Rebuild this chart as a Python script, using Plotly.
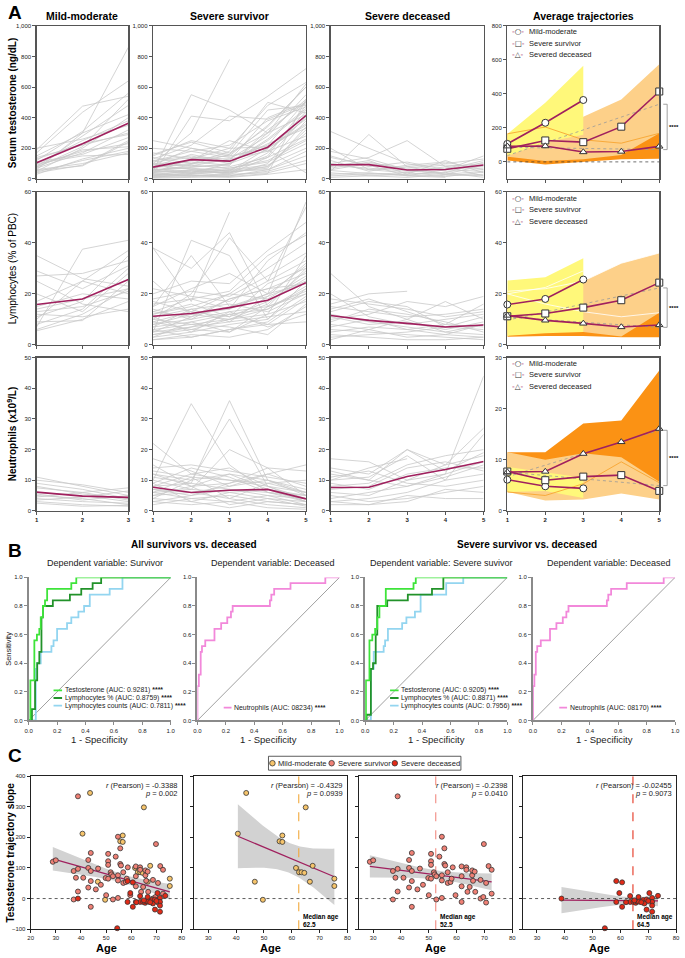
import numpy as np
import plotly.graph_objects as go

W, H = 685, 958
FONT = "Liberation Sans, Arial, sans-serif"
RASP = "#A0205E"
GRAY = "#C9C9C9"
YEL = "#FFF87A"
LOR = "#FDD089"
DOR = "#FB9214"

# ---------------- Panel A data ----------------
t3 = [1, 2, 3]
t5 = [1, 2, 3, 4, 5]

testo_mild_lines = [
    [190, 475, 540], [170, 435, 640], [60, 300, 860], [120, 310, 560], [80, 280, 480],
    [50, 200, 400], [100, 250, 380], [150, 300, 420], [40, 90, 250], [70, 170, 320],
    [90, 180, 230], [30, 130, 200], [110, 160, 270], [60, 100, 170], [140, 220, 300],
    [80, 190, 210], [45, 120, 180], [200, 260, 350], [130, 230, 290], [100, 150, 160],
    [55, 85, 240], [75, 210, 520]]
testo_surv_lines = [
    [50, 550, 450, 300, 620], [100, 300, 780, None, None], [30, 410, 380, 540, 720],
    [150, 250, 200, 480, 630], [80, 100, 120, 400, 500], [60, 80, 90, 300, 520],
    [20, 40, 60, 150, 480], [120, 150, 100, 250, 450], [40, 60, 30, 100, 380],
    [10, 30, 50, 200, 350], [90, 200, 150, 350, 600], [70, 120, 250, 180, 400],
    [30, 50, 40, 80, 300], [200, 180, 220, 380, 470], [50, 90, 70, 120, 250],
    [110, 140, 130, 280, 550], [25, 35, 60, 90, 200], [140, 100, 180, 500, 430],
    [60, 70, 50, 60, 150], [15, 20, 30, 40, 100], [80, 160, 110, 230, 330],
    [45, 55, 80, 140, 410], [100, 110, 90, 320, 500], [35, 25, 20, 50, 120],
    [170, 130, 150, 200, 360], [55, 75, 100, 260, 460], [10, 15, 10, 30, 60],
    [95, 85, 130, 180, 280], [130, 220, 410, 390, 490], [20, 60, 40, 170, 440],
    [65, 45, 70, 110, 230], [75, 95, 160, 450, 480], [40, 130, 200, 210, 390],
    [160, 240, 170, 300, 420], [5, 10, 20, 60, 180], [85, 65, 55, 80, 320],
    [115, 180, 140, 220, 510], [30, 20, 35, 140, 260], [250, 200, 160, 340, 600],
    [50, 40, 100, 190, 40], [20, 25, 15, 35, 520], [65, 35, 45, 70, 340]]
testo_dec_lines = [
    [310, 200, 100, 50, 60], [50, 290, 80, 30, 20], [100, 140, 250, 80, 100],
    [150, 80, 110, 60, 150], [80, 120, 30, 120, 40], [200, 60, 40, 20, 30],
    [30, 40, 20, 60, 120], [60, 100, 70, 90, 80], [120, 50, 90, 110, 60],
    [40, 20, 10, 30, 50], [90, 70, 50, 40, 110], [20, 30, 40, 80, 20],
    [70, 110, 60, 30, 90], [140, 90, 20, 10, None], [10, 20, 30, 40, 10],
    [100, 60, 80, 100, 130], [55, 35, 25, 15, 45], [180, 130, 60, 70, 70]]

lymph_mild_lines = [
    [35, 26, 23], [29, 22, 31], [27, 28, 33], [7, 37.5, 41], [10, 25, 37], [8, 14, 30],
    [6, 12, 22], [9, 9.5, 25], [15, 20, 18], [20, 13, 28], [12, 11, 14], [17, 25, 20],
    [25, 16, 13], [11, 17, 35], [14, 18, 22], [5.5, 10, 17], [13, 15, 21]]
lymph_surv_lines = [
    [38, 17, 52, None, None], [38, 30, 44, 15, 20], [5, 41, 35, 10, 25], [15, 35, 15, 20, 56],
    [10, 20, 42, 25, 54], [20, 25, 24, 37, 48], [8, 12, 14, 33, 44], [12, 15, 20, 30, 40],
    [6, 8, 10, 12, 35], [4, 6, 5, 15, 30], [14, 10, 18, 22, 28], [9, 13, 11, 17, 26],
    [3, 5, 8, 10, 22], [7, 9, 12, 8, 18], [16, 18, 14, 20, 24], [11, 14, 16, 13, 20],
    [2, 4, 3, 6, 15], [5, 7, 9, 11, 13], [13, 11, 15, 19, 32], [18, 21, 19, 27, 36],
    [10, 8, 7, 4, 16], [6, 3, 6, 9, 19], [8, 10, 13, 15, 21], [12, 16, 11, 24, 30],
    [4, 7, 12, 14, 23], [17, 13, 20, 18, 27], [9, 6, 10, 16, 29], [3, 9, 5, 12, 17],
    [22, 19, 17, 25, 33], [7, 14, 9, 19, 25], [11, 5, 13, 7, 12], [15, 22, 28, 20, 31],
    [5, 11, 18, 22, 24], [25, 12, 10, 14, 22], [13, 18, 21, 35, 43], [2, 3, 6, 8, 9]]
lymph_dec_lines = [
    [28, 15, 10, 5, 8], [16, 20, 21, None, None], [14, 18, 13, 8, 7], [10, 12, 17, 15, 19],
    [8, 6, 10, 17, 10], [12, 9, 7, 5, 4], [20, 11, 8, 10, 12], [5, 7, 6, 4, 3],
    [3, 4, 5, 7, 6], [15, 13, 11, 12, 14], [9, 14, 12, 9, 5], [6, 5, 4, 3, 2],
    [11, 8, 9, 6, 9], [18, 16, 14, 11, 13], [7, 10, 6, 8, 16], [4, 3, 2, 2, 3],
    [13, 17, 15, 7, 11], [2, 6, 3, 4, 8]]

neut_mild_lines = [
    [11, 8, 5], [10, 8.5, 6], [9, 7, 4], [7.5, 6, 7.5], [6, 5, 3], [5, 4, 2], [4, 3, 2.5],
    [3, 2, 1.5], [8, 5.5, 4], [3.5, 4.5, 6.5], [5.5, 3.5, 5], [4.5, 6, 3.5], [2.5, 1.5, 1.8]]
neut_surv_lines = [
    [22, 12, 10, 8, 6], [10, 35, 15, 6, 4], [8, 9, 36, 10, 5], [12, 10, 30, 8, 3],
    [6, 7, 20, 14, 5], [17, 13, 8, 12, 15], [15, 8, 12, 10, 7], [9, 14, 11, 6, 3],
    [7, 5, 9, 12, 8], [5, 6, 4, 9, 10], [11, 9, 7, 5, 2], [4, 3, 6, 4, 3],
    [3, 2, 3, 5, 4], [13, 11, 10, 9, 6], [6, 4, 5, 3, 2], [8, 12, 14, 8, 4],
    [10, 7, 6, 7, 5], [14, 15, 13, 11, 9], [5, 8, 2, 4, 1.5], [7, 6, 8, 10, 6],
    [3, 5, 7, 6, 5], [9, 3, 1, 3, 2], [12, 8, 9, 14, 13], [4, 10, 12, 7, 3],
    [6, 11, 4, 2, 1], [2, 4, 3, 1, 0.5]]
neut_dec_lines = [
    [17, 16, 10, 12, 44], [14, 12, 20, 15, 27], [10, 11, 18, 10, 25], [8, 9, 15, 18, 20],
    [12, 10, 20, 13, 19], [6, 5, 10, 15, 18], [4, 6, 8, 12, 16], [9, 7, 12, 14, 14],
    [3, 4, 6, 10, 12], [11, 13, 9, 8, 10], [5, 3, 4, 6, 8], [7, 8, 14, 16, 13],
    [2, 2, 5, 4, 4], [13, 10, 8, 11, 15], [10, 14, 17, None, None], [3, 2, 3, 7, 6]]

testo_mean_mild = [106, 230, 364]
testo_mean_surv = [77, 126, 116, 207, 414]
testo_mean_dec = [92, 93, 58, 61, 91]
lymph_mean_mild = [15.8, 18.0, 25.6]
lymph_mean_surv = [11.2, 12.3, 14.6, 17.5, 24.4]
lymph_mean_dec = [11.5, 9.6, 8.4, 7.0, 7.8]
neut_mean_mild = [6.1, 4.8, 4.4]
neut_mean_surv = [7.7, 6.0, 6.7, 7.0, 3.9]
neut_mean_dec = [7.6, 7.7, 11.2, 13.5, 16.1]

# band limits for the average-trajectory panels
testo_band_mild = ([164, 348, 566], [35, 115, 160])
testo_band_surv = ([164, 230, 265, 367, 574], [30, 5, 15, 40, 168])
testo_band_dec = ([165, 205, 130, 110, 168], [8, -15, -2, 15, 18])
lymph_band_mild = ([25.2, 26.5, 34.0], [3.5, 4.5, 5.0])
lymph_band_surv = ([21.0, 22.0, 25.0, 32.0, 36.0], [4.0, 5.0, 5.0, 3.3, 12.6])
lymph_band_dec = ([20.0, 16.0, 13.0, 11.0, 12.6], [3.2, 3.5, 3.5, 3.0, 3.0])
neut_band_mild = ([8.6, 7.6, 6.5], [3.7, 3.9, 2.5])
neut_band_surv = ([11.5, 10.0, 11.3, 10.5, 5.7], [3.7, 2.0, 2.2, 3.4, 2.2])
neut_band_dec = ([11.5, 11.5, 17.1, 17.7, 27.5], [3.7, 3.0, 5.3, 9.6, 5.5])

# ---------------- Panel B data (ROC step points) ----------------
roc1_testo_fpr = [0, 0.012, 0.04, 0.058, 0.075, 0.085, 0.1, 0.115, 0.13, 0.3, 0.335, 1.0]
roc1_testo_tpr = [0, 0.28, 0.56, 0.60, 0.64, 0.72, 0.80, 0.84, 0.92, 0.96, 1.0, 1.0]
roc1_lpct_fpr = [0, 0.023, 0.045, 0.06, 0.075, 0.09, 0.1, 0.17, 0.29, 0.37, 0.45, 0.51, 1.0]
roc1_lpct_tpr = [0, 0.08, 0.28, 0.40, 0.48, 0.72, 0.80, 0.84, 0.88, 0.92, 0.96, 1.0, 1.0]
roc1_lcnt_fpr = [0, 0.05, 0.06, 0.085, 0.16, 0.175, 0.2, 0.27, 0.30, 0.35, 0.39, 0.43, 0.57, 0.66, 1.0]
roc1_lcnt_tpr = [0, 0.36, 0.40, 0.48, 0.52, 0.56, 0.64, 0.68, 0.72, 0.76, 0.80, 0.88, 0.92, 1.0, 1.0]
roc2_neut_fpr = [0, 0, 0.01, 0.023, 0.032, 0.055, 0.12, 0.167, 0.21, 0.236, 0.248, 0.44, 0.51, 0.52, 0.54, 0.655, 0.9, 1.0]
roc2_neut_tpr = [0, 0.24, 0.32, 0.48, 0.52, 0.56, 0.64, 0.68, 0.72, 0.76, 0.80, 0.80, 0.84, 0.88, 0.92, 0.96, 1.0, 1.0]
roc3_testo_fpr = [0, 0.005, 0.03, 0.05, 0.07, 0.085, 0.1, 0.145, 0.34, 0.356, 1.0]
roc3_testo_tpr = [0, 0.28, 0.56, 0.60, 0.64, 0.72, 0.80, 0.92, 0.96, 1.0, 1.0]
roc3_lpct_fpr = [0, 0.01, 0.04, 0.055, 0.074, 0.085, 0.155, 0.3, 0.47, 0.55, 1.0]
roc3_lpct_tpr = [0, 0.04, 0.36, 0.40, 0.60, 0.80, 0.84, 0.88, 0.92, 1.0, 1.0]
roc3_lcnt_fpr = [0, 0.04, 0.06, 0.13, 0.14, 0.16, 0.26, 0.29, 0.35, 0.39, 0.57, 0.69, 1.0]
roc3_lcnt_tpr = [0, 0.36, 0.48, 0.52, 0.56, 0.64, 0.68, 0.72, 0.76, 0.88, 0.96, 1.0, 1.0]
roc4_neut_fpr = [0, 0, 0.01, 0.02, 0.03, 0.055, 0.12, 0.165, 0.21, 0.235, 0.25, 0.45, 0.52, 0.53, 0.55, 0.66, 0.92, 1.0]
roc4_neut_tpr = [0, 0.24, 0.32, 0.48, 0.52, 0.56, 0.64, 0.68, 0.72, 0.76, 0.80, 0.80, 0.84, 0.88, 0.92, 0.96, 1.0, 1.0]

# ---------------- Panel C data ----------------
mild_age = [40.6, 43.6, 46.7, 49.6, 55.6, 56.6, 56.6, 65.0, 61.5, 62.6, 63.5, 64.5, 67.5, 66.5, 75.3, 75.3]
mild_slope = [212, 345, 55, -4, 187, 185, 206, 298, 100, 86, 86, 84, 107, 55, 65, 41]
surv_age = [28.8, 30.0, 38.8, 37.1, 38.8, 38.0, 38.8, 37.1, 40.9, 42.9,
            43.9, 42.9, 43.9, 43.9, 42.9, 43.9, 45.9, 46.8, 47.9, 50.0,
            50.8, 50.8, 50.8, 49.8, 50.8, 51.8, 52.1, 52.7, 52.7, 53.8,
            54.7, 54.7, 54.7, 54.7, 55.6, 55.6, 55.9, 56.8, 56.8, 57.8,
            58.2, 58.6, 59.6, 61.8, 61.8, 61.8, 61.8, 63.5, 63.5, 63.9,
            65.6, 65.6, 66.5, 65.9, 64.7, 66.7, 68.6, 68.6, 69.6, 69.8,
            70.6, 70.6, 71.5, 72.6, 72.6]
surv_slope = [120, 125, 334, 90, 97, 68, 23, -3, 68, 126,
              149, 100, 90, 57, 36, -27, 30, 98, 45, 11,
              146, 122, 110, 67, 65, 86, 79, 73, -3, 137,
              202, 76, 59, 2, 164, 113, 108, 86, 51, 54,
              65, 102, 11, 105, 73, -11, 40, 102, 94, 22,
              76, 92, 88, 58, 38, 22, 61, 0, 5, 178,
              51, -13, 106, 94, 16]
dec_age = [38.8, 58.5, 60.6, 59.6, 58.5, 60.6, 54.4, 63.5, 63.5, 64.7,
           65.5, 65.9, 66.5, 66.7, 68.2, 68.6, 69.4, 70.4, 71.4, 71.4,
           71.4, 69.4, 71.4, 73.5, 62.0, 67.5, 65.0, 70.0]
dec_slope = [0, 57, 53, 18, -11, -27, -97, 8, -11, -11,
             -14, -9, 5, -10, -5, -16, -3, 18, 2, -11,
             -23, -36, -43, 9, -12, -12, -6, -8]
median_ages = [None, 62.5, 52.5, 64.5]
pearson_r = ["-0.3388", "-0.4329", "-0.2398", "-0.02455"]
pearson_p = ["0.002", "0.0939", "0.0410", "0.9073"]

# ---------------- helpers ----------------
def xd(a, b):
    return [a / W, b / W]

def yd(top, bot):
    return [1 - bot / H, 1 - top / H]

def px(x):
    return x / W

def py(y):
    return 1 - y / H

fig = go.Figure()
layout = {}
annotations = []
shapes = []

def ann(text, x, y, size=9, bold=False, xanchor="center", yanchor="middle", angle=0,
        color="black", xref="paper", yref="paper", align="center", family=FONT):
    annotations.append(dict(text=text, x=x, y=y, xref=xref, yref=yref, showarrow=False,
                            font=dict(family=family, size=size, color=color,
                                      weight="bold" if bold else "normal"),
                            xanchor=xanchor, yanchor=yanchor, textangle=angle, align=align))

def axname(n):
    return ("x" if n == 1 else f"x{n}"), ("y" if n == 1 else f"y{n}")

def set_axes(n, xdom, ydom, xrange, yrange, xtick, ytick, xlabels=True, ylabels=True,
             box=True, linecolor="#555", linewidth=1.3, yfmt=None, xbold=False):
    xk = "xaxis" if n == 1 else f"xaxis{n}"
    yk = "yaxis" if n == 1 else f"yaxis{n}"
    xa, ya = axname(n)
    layout[xk] = dict(domain=xdom, anchor=ya, range=xrange, tickvals=xtick,
                      showticklabels=xlabels, ticks="outside", ticklen=3, tickwidth=1,
                      tickcolor=linecolor, showline=True, linecolor=linecolor,
                      linewidth=linewidth, mirror=box, showgrid=False, zeroline=False,
                      tickfont=dict(family=FONT, size=6, color="#222",
                                    weight="bold" if xbold else "normal"))
    layout[yk] = dict(domain=ydom, anchor=xa, range=yrange, tickvals=ytick,
                      showticklabels=ylabels, ticks="outside", ticklen=3, tickwidth=1,
                      tickcolor=linecolor, showline=True, linecolor=linecolor,
                      linewidth=linewidth, mirror=box, showgrid=False, zeroline=False,
                      tickfont=dict(family=FONT, size=6, color="#222"))
    if yfmt:
        layout[yk]["tickformat"] = yfmt

def add(n, **kw):
    xa, ya = axname(n)
    fig.add_trace(go.Scatter(xaxis=xa, yaxis=ya, showlegend=False, hoverinfo="skip", **kw))

# ---------------- Panel A ----------------
A_cols = [(33, 126), (151, 306), (331, 486), (510, 664)]
A_rows = [(23, 177), (190, 344), (357, 511)]
row_data = [
    (testo_mild_lines, testo_surv_lines, testo_dec_lines,
     (testo_mean_mild, testo_mean_surv, testo_mean_dec),
     (testo_band_mild, testo_band_surv, testo_band_dec)),
    (lymph_mild_lines, lymph_surv_lines, lymph_dec_lines,
     (lymph_mean_mild, lymph_mean_surv, lymph_mean_dec),
     (lymph_band_mild, lymph_band_surv, lymph_band_dec)),
    (neut_mild_lines, neut_surv_lines, neut_dec_lines,
     (neut_mean_mild, neut_mean_surv, neut_mean_dec),
     (neut_band_mild, neut_band_surv, neut_band_dec)),
]
yranges = [([0, 1000], [0, 200, 400, 600, 800, 1000], [-100, 800], [0, 200, 400, 600, 800]),
           ([0, 60], [0, 20, 40, 60], [0, 60], [0, 20, 40, 60]),
           ([0, 50], [0, 10, 20, 30, 40, 50], [0, 30], [0, 10, 20, 30])]

for r in range(3):
    lines3 = row_data[r][:3]
    means = row_data[r][3]
    bands = row_data[r][4]
    for c in range(4):
        n = r * 4 + c + 1
        xr = [1, 3] if c == 0 else [1, 5]
        xt = t3 if c == 0 else t5
        yr, yt = (yranges[r][0], yranges[r][1]) if c < 3 else (yranges[r][2], yranges[r][3])
        set_axes(n, xd(*A_cols[c]), yd(*A_rows[r]), xr, yr, xt, yt,
                 xlabels=(r == 2), yfmt="," if r == 0 else None, xbold=True)
        if c < 3:
            tt = t3 if c == 0 else t5
            xs, ys = [], []
            for ln in lines3[c]:
                xs += tt + [None]
                ys += ln + [None]
            add(n, x=xs, y=ys, mode="lines", line=dict(color=GRAY, width=0.8), connectgaps=False)
            add(n, x=tt, y=means[c], mode="lines", line=dict(color=RASP, width=1.6))
        else:
            # bands: deceased, survivor, mild
            order = [(2, DOR, t5), (1, LOR, t5), (0, YEL, t3)]
            for gi, col, tt in order:
                up, lo = bands[gi]
                add(n, x=tt + tt[::-1], y=up + lo[::-1], mode="lines", fill="toself",
                    fillcolor=col, line=dict(width=0))
            # band edges drawn faintly on top
            if r == 1:
                for gi in (1, 2):
                    add(n, x=t5, y=bands[gi][0], mode="lines", line=dict(color="white", width=0.8))
                add(n, x=t3, y=[20, 22.5, 29], mode="lines", line=dict(color="white", width=0.8))
            else:
                add(n, x=t5, y=bands[2][0] if r == 0 else bands[2][1], mode="lines",
                    line=dict(color="#F7A531", width=0.9))
            if r == 0:
                add(n, x=[1, 5], y=[0, 0], mode="lines", line=dict(color="#333", width=0.7, dash="dot"))
            # linear trend of survivor and deceased means
            for m in (means[1], means[2]):
                b1, b0 = np.polyfit(t5, m, 1)
                add(n, x=[1, 5], y=[b0 + b1 * 1, b0 + b1 * 5], mode="lines",
                    line=dict(color="#999", width=0.8, dash="dot"))
            syms = ["circle", "square", "triangle-up"]
            for gi, tt in ((0, t3), (1, t5), (2, t5)):
                add(n, x=tt, y=means[gi], mode="lines+markers", cliponaxis=False,
                    line=dict(color=RASP, width=1.6),
                    marker=dict(symbol=syms[gi], size=7 if gi < 2 else 6.5, color="white",
                                line=dict(color="#333", width=1)))
            # bracket
            b_s = np.polyfit(t5, means[1], 1)
            b_d = np.polyfit(t5, means[2], 1)
            ytop = b_s[1] + 5 * b_s[0]
            ybot = b_d[1] + 5 * b_d[0]
            ya = axname(n)[1]
            for (x0, x1, y0, y1) in [(px(672), px(672), ytop, ybot), (px(668), px(672), ytop, ytop),
                                     (px(668), px(672), ybot, ybot)]:
                shapes.append(dict(type="line", xref="paper", yref=ya, x0=x0, x1=x1, y0=y0, y1=y1,
                                   line=dict(color="#888", width=0.8)))
            ann("****", px(679), (ytop + ybot) / 2, size=6, bold=True, yref=ya)

# Panel A text
ann("A", px(2), py(10), size=19, bold=True, xanchor="left")
for c, t in enumerate(["Mild-moderate", "Severe survivor", "Severe deceased", "Average trajectories"]):
    ann(t, px((A_cols[c][0] + A_cols[c][1]) / 2), py(13), size=10.5, bold=True)
ann("Serum testosterone (ng/dL)", px(8), py(100), size=10, bold=True, angle=-90)
ann("Lymphocytes (% of PBC)", px(8), py(267), size=10, angle=-90)
ann("Neutrophils (x10<sup>9</sup>/L)", px(8), py(434), size=10, bold=True, angle=-90)

legend_rows = [
    (29, ["Mild-moderate", "Severe survivor", "Severed deceased"]),
    (197, ["Mild-moderate", "Severe suvirvor", "Severe deceased"]),
    (363, ["Mild-moderate", "Severe survivor", "Severed deceased"]),
]
glyphs = ["○", "□", "△"]
for y0, labels in legend_rows:
    for i, lab in enumerate(labels):
        yy = y0 + i * 11.3
        ann(f"<span style='color:{RASP}'>-</span>{glyphs[i]}<span style='color:{RASP}'>-</span>",
            px(521), py(yy), size=7.5, family="DejaVu Sans, sans-serif", color="#333")
        ann(lab, px(530), py(yy), size=7.5, xanchor="left", color="#222")

# ---------------- Panel B ----------------
B_cols = [(25, 169), (196, 340), (366, 510), (536, 680)]
B_row = (578, 722)
roc_sets = [
    [(roc1_testo_fpr, roc1_testo_tpr, "#3EE43A"), (roc1_lpct_fpr, roc1_lpct_tpr, "#22922A"),
     (roc1_lcnt_fpr, roc1_lcnt_tpr, "#93D5F0")],
    [(roc2_neut_fpr, roc2_neut_tpr, "#F288DA")],
    [(roc3_testo_fpr, roc3_testo_tpr, "#3EE43A"), (roc3_lpct_fpr, roc3_lpct_tpr, "#22922A"),
     (roc3_lcnt_fpr, roc3_lcnt_tpr, "#93D5F0")],
    [(roc4_neut_fpr, roc4_neut_tpr, "#F288DA")],
]
roc_labels = [
    ["Testosterone (AUC: 0.9281)", "Lymphocytes % (AUC: 0.8759)", "Lymphocytes counts (AUC: 0.7811)"],
    ["Neutrophils (AUC: 08234)"],
    ["Testosterone (AUC: 0.9205)", "Lymphocytes % (AUC: 0.8871)", "Lymphocytes counts (AUC: 0.7956)"],
    ["Neutrophils (AUC: 08170)"],
]
ticks01 = [0, 0.2, 0.4, 0.6, 0.8, 1.0]
for k in range(4):
    n = 13 + k
    set_axes(n, xd(*B_cols[k]), yd(*B_row), [0, 1.0], [0, 1.0], ticks01, ticks01,
             box=False, linecolor="#8a8a8a", linewidth=2)
    layout[f"xaxis{n}"]["tickformat"] = ".1f"
    layout[f"yaxis{n}"]["tickformat"] = ".1f"
    add(n, x=[0, 1], y=[0, 1], mode="lines", line=dict(color="#777", width=0.7))
    for fpr, tpr, col in roc_sets[k][::-1]:
        add(n, x=fpr, y=tpr, mode="lines", line=dict(color=col, width=1.8, shape="hv"),
            cliponaxis=False)
    xa, ya = axname(n)
    labs = roc_labels[k]
    if len(labs) == 3:
        ys_ = [0.21, 0.157, 0.104]
        x0s, x1s = 0.175, 0.235
    else:
        ys_ = [0.09]
        x0s, x1s = 0.185, 0.24
    for i, lab in enumerate(labs):
        col = roc_sets[k][i][2]
        shapes.append(dict(type="line", xref=xa, yref=ya, x0=x0s, x1=x1s, y0=ys_[i], y1=ys_[i],
                           line=dict(color=col, width=1.8)))
        ann(lab + " <b>****</b>", x1s + 0.005, ys_[i], size=6.9, xanchor="left", xref=xa, yref=ya,
            color="#222")
    ann("1 - Specificity", px((B_cols[k][0] + B_cols[k][1]) / 2), py(741), size=9.5, color="#222")

ann("B", px(2), py(551), size=19, bold=True, xanchor="left")
ann("All survivors vs. deceased", px(193), py(545), size=10, bold=True)
ann("Severe survivor vs. deceased", px(530), py(545), size=10, bold=True)
for k, t in enumerate(["Dependent variable: Survivor", "Dependent variable: Deceased",
                       "Dependent variable: Severe suvivor", "Dependent variable: Deceased"]):
    ann(t, px((B_cols[k][0] + B_cols[k][1]) / 2 + 5), py(564), size=9, color="#222")
ann("Sensitivity", px(5), py(650), size=7.5, angle=-90, color="#222")

# ---------------- Panel C ----------------
C_cols = [(27, 180), (193, 348), (360, 515), (526, 681)]
C_row = (778, 932)
C_MILD, C_SURV, C_DEC = "#F6C46B", "#EF8075", "#E22A17"

def reg_band(x, y, n_pts=60):
    x = np.asarray(x, float)
    y = np.asarray(y, float)
    nn = len(x)
    b1, b0 = np.polyfit(x, y, 1)
    xs = np.linspace(x.min(), x.max(), n_pts)
    yh = b0 + b1 * xs
    res = y - (b0 + b1 * x)
    s = np.sqrt(np.sum(res ** 2) / (nn - 2))
    sxx = np.sum((x - x.mean()) ** 2)
    df = nn - 2
    t = 1.96 + 2.4 / df
    se = s * np.sqrt(1.0 / nn + (xs - x.mean()) ** 2 / sxx)
    return xs, yh, yh + t * se, yh - t * se

groups_c = [
    [(mild_age, mild_slope, C_MILD), (surv_age, surv_slope, C_SURV), (dec_age, dec_slope, C_DEC)],
    [(mild_age, mild_slope, C_MILD)],
    [(surv_age, surv_slope, C_SURV)],
    [(dec_age, dec_slope, C_DEC)],
]
median_cols = [None, "#F2A93B", "#F08A80", "#E4321E"]
for k in range(4):
    n = 17 + k
    xr = [20, 80] if k == 0 else [25, 80]
    xt = [20, 30, 40, 50, 60, 70, 80] if k == 0 else [30, 40, 50, 60, 70, 80]
    set_axes(n, xd(*C_cols[k]), yd(*C_row), xr, [-100, 400], xt, [-100, 0, 100, 200, 300, 400],
             ylabels=(k == 0), linecolor="#222", linewidth=1)
    xa, ya = axname(n)
    ax_all = np.concatenate([np.asarray(g[0], float) for g in groups_c[k]])
    ay_all = np.concatenate([np.asarray(g[1], float) for g in groups_c[k]])
    xs, yh, up, lo = reg_band(ax_all, ay_all)
    add(n, x=list(xs) + list(xs[::-1]), y=list(up) + list(lo[::-1]), mode="lines", fill="toself",
        fillcolor="#D2D2D2", line=dict(width=0))
    add(n, x=xr, y=[0, 0], mode="lines", line=dict(color="#333", width=0.8, dash="dot"))
    if median_ages[k] is not None:
        add(n, x=[median_ages[k]] * 2, y=[-100, 400], mode="lines",
            line=dict(color=median_cols[k], width=1.1, dash="dash"))
        ann(f"Median age<br>{median_ages[k]}", median_ages[k] + 0.9, -72, size=6.5, bold=True,
            xanchor="left", xref=xa, yref=ya, align="left")
    add(n, x=xs, y=yh, mode="lines", line=dict(color=RASP, width=1.3))
    for gx, gy, col in groups_c[k]:
        add(n, x=gx, y=gy, mode="markers", cliponaxis=False,
            marker=dict(size=5, color=col, line=dict(color="#333", width=0.8)))
    ann(f"<i>r</i> (Pearson) = {pearson_r[k]}", px(C_cols[k][1] - 2), py(787), size=7.5,
        xanchor="right", color="#222")
    ann(f"<i>p</i> = {pearson_p[k]}", px(C_cols[k][1] - 2), py(795), size=7.5,
        xanchor="right", color="#222")
    ann("Age", px((C_cols[k][0] + C_cols[k][1]) / 2), py(951), size=11, bold=True)

ann("C", px(2), py(757), size=19, bold=True, xanchor="left")
ann("Testosterone trajectory slope", px(7), py(855), size=10, bold=True, angle=-90)

# Panel C legend box
shapes.append(dict(type="rect", xref="paper", yref="paper", x0=px(268), x1=px(463),
                   y0=py(772), y1=py(758), line=dict(color="#333", width=0.8), fillcolor="white"))
for xm, lab, col in [(272, "Mild-moderate", C_MILD), (332, "Severe survivor", C_SURV),
                     (396, "Severe deceased", C_DEC)]:
    shapes.append(dict(type="circle", xref="paper", yref="paper", x0=px(xm - 2.8), x1=px(xm + 2.8),
                       y0=py(765 + 2.8), y1=py(765 - 2.8), fillcolor=col,
                       line=dict(color="#333", width=0.8)))
    ann(lab, px(xm + 4), py(765), size=7.6, xanchor="left", color="#222")

layout.update(dict(width=W, height=H, margin=dict(l=0, r=0, t=0, b=0),
                   paper_bgcolor="white", plot_bgcolor="white", showlegend=False,
                   annotations=annotations, shapes=shapes, hovermode=False,
                   font=dict(family=FONT)))
fig.update_layout(**layout)
fig.write_html("out.html", config={"displayModeBar": False, "staticPlot": True},
               post_script="document.body.style.margin='0';document.body.style.overflow='hidden';")
